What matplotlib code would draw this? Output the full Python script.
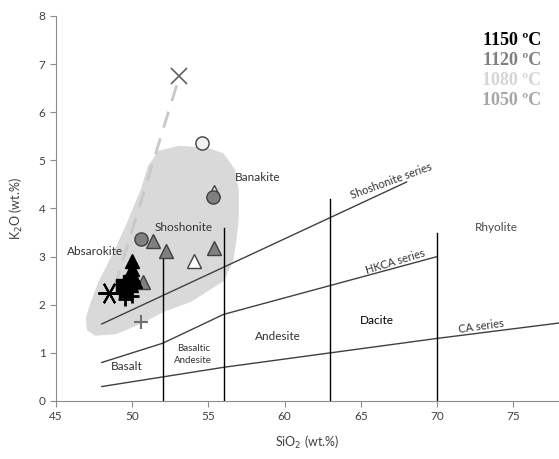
import numpy as np
import matplotlib.pyplot as plt
from matplotlib.patches import Polygon

plt.rcParams['font.family'] = ['Lato', 'DejaVu Sans']

# field of the experimental glasses (grey area)
field_x = [51.8, 53.1, 54.9, 55.9, 56.6, 56.85, 56.85, 56.7, 56.5, 55.9, 53.8, 52.0, 50.5, 48.9, 47.6, 47.15, 47.1, 47.4, 47.9, 49.0, 49.8, 50.7, 51.15]
field_y = [5.16, 5.26, 5.22, 5.11, 4.80, 4.39, 3.76, 3.35, 2.93, 2.52, 2.10, 1.89, 1.64, 1.43, 1.40, 1.5, 1.72, 2.04, 2.45, 3.14, 3.70, 4.39, 4.86]

# classification boundaries (Peccerillo & Taylor)
sho_x = [48, 68]
sho_y = [1.6, 4.55]
hkca_x = [48, 52, 56, 63, 70]
hkca_y = [0.8, 1.2, 1.8, 2.4, 3.0]
ca_x = [48, 52, 56, 63, 70, 78]
ca_y = [0.3, 0.5, 0.7, 1.0, 1.3, 1.62]
vert_x = [52, 56, 63, 70]
vert_top = [3.1, 3.6, 4.2, 3.5]

# samples
grey_tri_x = [51.35, 52.2, 55.34, 50.7]
grey_tri_y = [3.33, 3.12, 3.18, 2.47]
open_tri_x = [54.03]
open_tri_y = [2.91]
small_tri_x = [55.38]
small_tri_y = [4.36]
grey_circ_x = [50.56, 55.27]
grey_circ_y = [3.37, 4.24]
open_circ_x = [54.55]
open_circ_y = [5.36]
black_tri_x = [50.0, 50.0, 50.05, 50.15, 49.9]
black_tri_y = [2.9, 2.75, 2.6, 2.5, 2.42]
black_sq_x = [49.3, 49.6, 49.8, 49.5]
black_sq_y = [2.42, 2.33, 2.5, 2.28]
black_plus_x = [49.5, 50.0]
black_plus_y = [2.12, 2.18]
grey_plus_x = [50.56]
grey_plus_y = [1.64]
star_x = [48.45]
star_y = [2.25]
cross_x = [53.1]
cross_y = [6.75]
trend_x = [48.85, 53.1]
trend_y = [2.37, 6.75]

fig = plt.figure(figsize=(5.59, 4.59), dpi=100)
ax = fig.add_axes([0.1002, 0.1264, 0.8998, 0.8388])

ax.add_patch(Polygon(np.column_stack([field_x, field_y]), closed=True,
                     facecolor='#d9d9d9', edgecolor='#d9d9d9', lw=3, joinstyle='round', zorder=1))

ax.plot(sho_x, sho_y, color='#404040', lw=1, zorder=2)
ax.plot(hkca_x, hkca_y, color='#404040', lw=1, zorder=2)
ax.plot(ca_x, ca_y, color='#404040', lw=1, zorder=2)
for vx, vt in zip(vert_x, vert_top):
    ax.plot([vx, vx], [0, vt], color='black', lw=1, zorder=2)

ax.plot(trend_x, trend_y, color='#c8c8c8', lw=2, dashes=(6, 4), zorder=3)
ax.plot(cross_x, cross_y, 'x', color='#606060', ms=11, mew=1.2, zorder=4)

ax.plot(open_tri_x, open_tri_y, '^', mfc='white', mec='#404040', ms=10, mew=1, ls='none', zorder=4)
ax.plot(small_tri_x, small_tri_y, '^', mfc='#e8e8e8', mec='#404040', ms=8, mew=1, ls='none', zorder=4)
ax.plot(grey_circ_x, grey_circ_y, 'o', mfc='#808080', mec='#404040', ms=9.5, mew=1, ls='none', zorder=5)
ax.plot(open_circ_x, open_circ_y, 'o', mfc='#f2f2f2', mec='#404040', ms=9.5, mew=1, ls='none', zorder=5)
ax.plot(grey_tri_x, grey_tri_y, '^', mfc='#808080', mec='#404040', ms=10, mew=1, ls='none', zorder=5)
ax.plot(black_sq_x, black_sq_y, 's', color='black', ms=8, ls='none', zorder=6)
ax.plot(black_tri_x, black_tri_y, '^', color='black', ms=10, ls='none', zorder=6)
ax.plot(black_plus_x, black_plus_y, '+', color='black', ms=10, mew=2, ls='none', zorder=6)
ax.plot(grey_plus_x, grey_plus_y, '+', color='#707070', ms=10, mew=1.5, ls='none', zorder=6)
ax.plot(star_x, star_y, marker=(6, 2, 90), color='black', ms=16, mew=1.5, ls='none', zorder=6)

tc = '#333333'
ax.text(58.2, 4.64, 'Banakite', fontsize=8.5, color=tc, ha='center', va='center')
ax.text(73.9, 3.6, 'Rhyolite', fontsize=8.5, color='#4a4a4a', ha='center', va='center')
ax.text(66.07, 1.68, 'Dacite', fontsize=8.5, color='black', ha='center', va='center')
ax.text(59.53, 1.33, 'Andesite', fontsize=8.5, color=tc, ha='center', va='center')
ax.text(54.0, 0.96, 'Basaltic\nAndesite', fontsize=7, color=tc, ha='center', va='center', linespacing=1.4)
ax.text(49.65, 0.71, 'Basalt', fontsize=8.5, color=tc, ha='center', va='center')
ax.text(53.4, 3.6, 'Shoshonite', fontsize=8.5, color=tc, ha='center', va='center', zorder=7)
ax.text(47.55, 3.1, 'Absarokite', fontsize=8.5, color=tc, ha='center', va='center', zorder=7)
ax.text(67.0, 4.57, 'Shoshonite series', fontsize=8, color=tc, ha='center', va='center', rotation=20)
ax.text(67.25, 2.89, 'HKCA series', fontsize=8, color=tc, ha='center', va='center', rotation=17)
ax.text(72.9, 1.56, 'CA series', fontsize=8, color=tc, ha='center', va='center', rotation=8)

temps = ['1150 ºC', '1120 ºC', '1080 ºC', '1050 ºC']
temp_colors = ['black', '#808080', '#d4d4d4', '#a6a6a6']
for i, (t, c) in enumerate(zip(temps, temp_colors)):
    fig.text(0.968, 0.912 - i * 0.044, t, fontsize=13, fontweight='bold', color=c,
             family='Liberation Serif', ha='right', va='center')

ax.set_xlim(45, 78)
ax.set_ylim(0, 8)
ax.set_xticks([45, 50, 55, 60, 65, 70, 75])
ax.set_yticks(range(0, 9))
ax.spines['top'].set_visible(False)
ax.spines['right'].set_visible(False)
ax.spines['left'].set_color('#8c8c8c')
ax.spines['bottom'].set_color('#8c8c8c')
ax.tick_params(colors='#8c8c8c', labelcolor='#404040', labelsize=8.5, length=4, direction='out')
ax.set_xlabel('SiO$_2$ (wt.%)', fontsize=9, color='#404040', labelpad=8)
ax.set_ylabel('K$_2$O (wt.%)', fontsize=9, color='#404040', labelpad=10)

fig.savefig('out.png', dpi=100)
